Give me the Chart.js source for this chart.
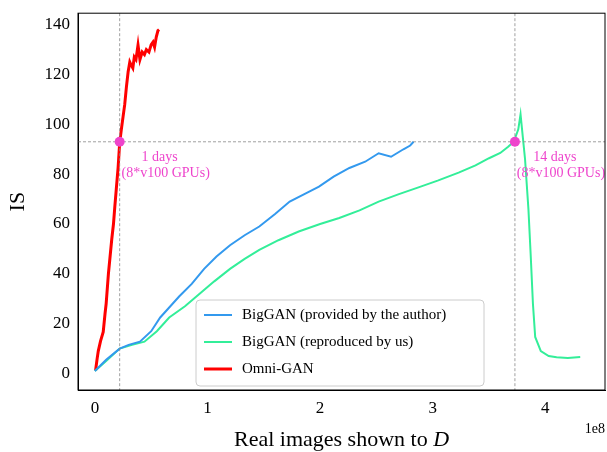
<!DOCTYPE html>
<html>
<head>
<script src="https://cdn.jsdelivr.net/npm/chart.js@4"></script>
<style>body{margin:0;background:#fff}#wrap{width:607px;height:452px}</style>
</head>
<body>
<div id="wrap"><canvas id="c"></canvas></div>
<script>
// x values in units of 1e8 real images
const omniX = [0.006, 0.02, 0.03, 0.05, 0.074, 0.09, 0.10, 0.12, 0.15, 0.165, 0.177, 0.19, 0.206, 0.22, 0.235, 0.25, 0.265, 0.28, 0.295, 0.31, 0.32, 0.337, 0.35, 0.365, 0.383, 0.40, 0.42, 0.44, 0.457, 0.48, 0.50, 0.516, 0.53, 0.545, 0.56, 0.57];
const omniY = [1.2, 6, 9, 13, 16.7, 24, 28, 40, 54, 60, 67, 74, 82.5, 92.6, 98, 103, 108, 115, 121, 125, 124, 122.6, 127, 126, 131.8, 126, 129, 128, 130, 129, 132, 133, 131, 135, 137.6, 138];
const provX = [0, 0.1, 0.22, 0.3, 0.4, 0.5, 0.58, 0.66, 0.75, 0.86, 0.97, 1.08, 1.2, 1.33, 1.46, 1.6, 1.73, 1.86, 1.99, 2.12, 2.26, 2.4, 2.52, 2.63, 2.74, 2.8, 2.83];
const provY = [1, 5.5, 10, 11.5, 12.8, 17, 22.5, 26.5, 31, 36, 42, 47, 51.5, 55.5, 59, 64, 69, 72, 75, 79, 82.5, 85, 88.4, 87, 90, 91.5, 93];
const reprX = [0, 0.1, 0.22, 0.33, 0.44, 0.55, 0.66, 0.8, 0.93, 1.06, 1.2, 1.33, 1.46, 1.63, 1.81, 2.0, 2.17, 2.35, 2.52, 2.7, 2.88, 3.05, 3.23, 3.38, 3.5, 3.6, 3.67, 3.72, 3.76, 3.78, 3.8, 3.82, 3.85, 3.87, 3.89, 3.91, 3.96, 4.03, 4.1, 4.2, 4.31];
const reprY = [1, 5, 10, 11.5, 12.8, 17, 22.5, 27, 32, 37, 42, 46, 49.6, 53.5, 57, 60, 62.4, 65.5, 69, 72, 74.8, 77.5, 80.6, 83.5, 86.4, 88.5, 91, 93, 98, 104, 95, 86, 66, 47.7, 28, 14.7, 9, 7, 6.5, 6.2, 6.6];
const marks = [[0.22, 93], [3.73, 93]];
const xTicks = [0, 1, 2, 3, 4];
const yTicks = [0, 20, 40, 60, 80, 100, 120, 140];

const pts = (xs, ys) => xs.map((x, i) => ({ x: x, y: ys[i] }));
const serif = "Liberation Serif";

const overlay = {
  id: "overlay",
  afterDraw(chart) {
    const { ctx, chartArea: a, scales: { x, y } } = chart;
    ctx.save();
    // guide lines
    ctx.strokeStyle = "#888"; ctx.lineWidth = 0.8; ctx.setLineDash([3, 2]);
    ctx.beginPath();
    marks.forEach(m => { ctx.moveTo(x.getPixelForValue(m[0]), a.top); ctx.lineTo(x.getPixelForValue(m[0]), a.bottom); });
    ctx.moveTo(a.left, y.getPixelForValue(93)); ctx.lineTo(a.right, y.getPixelForValue(93));
    ctx.stroke(); ctx.setLineDash([]);
    // dots + labels
    const labels = ["1 days", "14 days"];
    marks.forEach((m, i) => {
      const px = x.getPixelForValue(m[0]), py = y.getPixelForValue(m[1]);
      ctx.fillStyle = "#ee44cc"; ctx.beginPath(); ctx.arc(px, py, 5, 0, Math.PI * 2); ctx.fill();
      ctx.font = "14px " + serif; ctx.textAlign = "center"; ctx.fillStyle = "#ee44cc";
      ctx.fillText(labels[i], px + 40, py + 19);
      ctx.fillText("(8*v100 GPUs)", px + 46, py + 35);
    });
    // frame
    ctx.strokeStyle = "#000"; ctx.lineWidth = 1; ctx.strokeRect(a.left, a.top, a.right - a.left, a.bottom - a.top);
    // legend
    const lx = 196, ly = 300;
    ctx.fillStyle = "rgba(255,255,255,0.85)"; ctx.strokeStyle = "#ccc";
    ctx.beginPath(); ctx.roundRect(lx, ly, 288, 86, 4); ctx.fill(); ctx.stroke();
    const items = [["BigGAN (provided by the author)", "#3399ee", 2], ["BigGAN (reproduced by us)", "#33ee99", 2], ["Omni-GAN", "#ff0000", 3]];
    ctx.font = "15px " + serif; ctx.textAlign = "left"; ctx.textBaseline = "middle";
    items.forEach((it, i) => {
      const yy = ly + 15 + i * 27;
      ctx.strokeStyle = it[1]; ctx.lineWidth = it[2];
      ctx.beginPath(); ctx.moveTo(lx + 8, yy); ctx.lineTo(lx + 36, yy); ctx.stroke();
      ctx.fillStyle = "#000"; ctx.fillText(it[0], lx + 46, yy);
    });
    // axis titles
    ctx.textBaseline = "alphabetic";
    ctx.font = "22px " + serif; ctx.textAlign = "left";
    const t1 = "Real images shown to ";
    const w1 = ctx.measureText(t1).width;
    ctx.font = "italic 22px " + serif;
    const w2 = ctx.measureText("D").width;
    const sx = (a.left + a.right) / 2 - (w1 + w2) / 2;
    ctx.font = "22px " + serif; ctx.fillText(t1, sx, 446);
    ctx.font = "italic 22px " + serif; ctx.fillText("D", sx + w1, 446);
    ctx.font = "14px " + serif; ctx.textAlign = "right"; ctx.fillText("1e8", 605, 433);
    ctx.translate(24, (a.top + a.bottom) / 2); ctx.rotate(-Math.PI / 2);
    ctx.font = "22px " + serif; ctx.textAlign = "center"; ctx.fillText("IS", 0, 0);
    ctx.restore();
  }
};

new Chart(document.getElementById("c"), {
  type: "line",
  data: {
    datasets: [
      { data: pts(provX, provY), borderColor: "#3399ee", borderWidth: 2, pointRadius: 0, tension: 0 },
      { data: pts(reprX, reprY), borderColor: "#33ee99", borderWidth: 2, pointRadius: 0, tension: 0 },
      { data: pts(omniX, omniY), borderColor: "#ff0000", borderWidth: 3, pointRadius: 0, tension: 0 }
    ]
  },
  options: {
    responsive: true, maintainAspectRatio: false, animation: false,
    layout: { padding: { top: 2, right: 2, bottom: 0, left: 0 } },
    plugins: { legend: { display: false }, tooltip: { enabled: false } },
    scales: {
      x: {
        type: "linear", min: -0.15, max: 4.53,
        afterBuildTicks: s => { s.ticks = xTicks.map(v => ({ value: v })); },
        afterFit: s => { s.height = 62; },
        grid: { display: false, drawTicks: true, tickLength: 5, tickColor: "#000" },
        border: { color: "#000" },
        ticks: { color: "#000", font: { family: serif, size: 17 }, padding: 3 }
      },
      y: {
        min: -6.6, max: 144.6,
        afterBuildTicks: s => { s.ticks = yTicks.map(v => ({ value: v })); },
        afterFit: s => { s.width = 78; },
        grid: { display: false, drawTicks: true, tickLength: 5, tickColor: "#000" },
        border: { color: "#000" },
        ticks: { color: "#000", font: { family: serif, size: 17 }, padding: 3 }
      }
    }
  },
  plugins: [overlay]
});
</script>
</body>
</html>
